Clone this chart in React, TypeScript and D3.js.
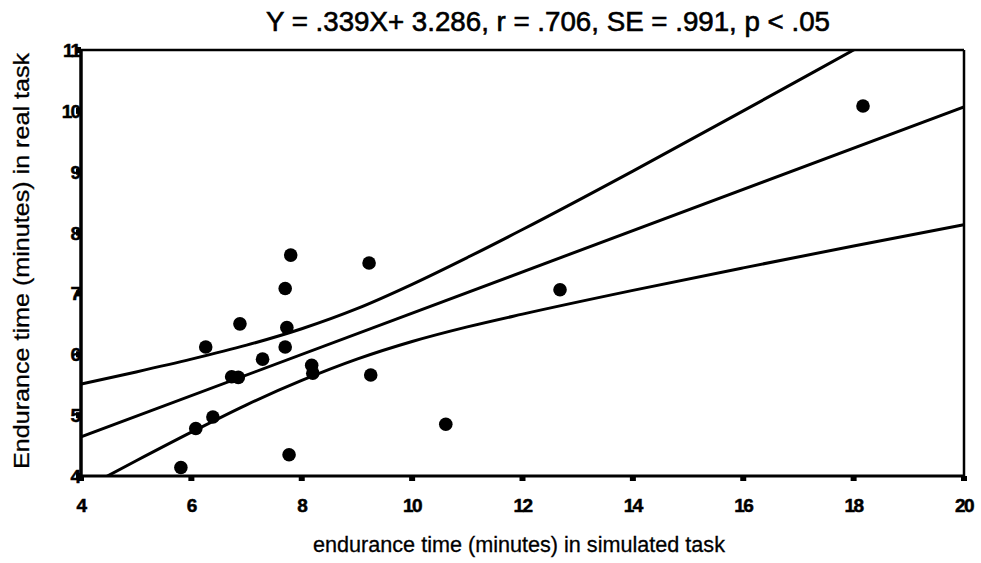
import React from "react";
import * as d3 from "d3";

const simulated = [7.80, 7.70, 6.88, 7.73, 6.26, 7.70, 7.29, 8.18, 8.20, 6.73, 6.85, 6.39, 6.08, 7.77, 5.81, 18.17, 9.22, 12.68, 9.25, 10.61];
const real = [7.63, 7.08, 6.50, 6.44, 6.12, 6.12, 5.92, 5.82, 5.69, 5.63, 5.62, 4.97, 4.78, 4.35, 4.14, 10.08, 7.50, 7.06, 5.66, 4.85];

const slope = 0.339;
const intercept = 3.286;

const bandX = [4, 5, 6, 7, 8, 9, 10, 11, 12, 14, 16, 18, 20];
const bandUpper = [5.51, 5.71, 5.92, 6.15, 6.42, 6.75, 7.15, 7.59, 8.05, 9.01, 10.0, 11.0, 12.0];
const bandLower = [3.77, 4.25, 4.72, 5.17, 5.57, 5.92, 6.21, 6.45, 6.66, 7.05, 7.42, 7.78, 8.13];

const xTicks = [4, 6, 8, 10, 12, 14, 16, 18, 20];
const yTicks = [4, 5, 6, 7, 8, 9, 10, 11];

const titleText = "Y = .339X+ 3.286, r = .706, SE = .991, p < .05";
const xTitle = "endurance time (minutes) in simulated task";
const yTitle = "Endurance time (minutes) in real task";

export default function App() {
  const W = 981, H = 563;
  const left = 81, right = 964, top = 50, bottom = 476;
  const x = d3.scaleLinear().domain([4, 20]).range([left, right]);
  const y = d3.scaleLinear().domain([4, 11]).range([bottom, top]);

  const line = d3.line<[number, number]>().x(d => x(d[0])).y(d => y(d[1])).curve(d3.curveMonotoneX);
  const upperPath = line(bandX.map((v, i) => [v, bandUpper[i]] as [number, number])) || "";
  const lowerPath = line(bandX.map((v, i) => [v, bandLower[i]] as [number, number])) || "";
  const fitPath = line([[4, slope * 4 + intercept], [20, slope * 20 + intercept]]) || "";

  const font = "'Liberation Sans', Arial, sans-serif";

  return (
    <svg width={W} height={H} style={{ position: "absolute", left: 0, top: 0, background: "#fff" }}>
      <defs>
        <clipPath id="plot">
          <rect x={left} y={top} width={right - left} height={bottom - top} />
        </clipPath>
      </defs>
      <rect width={W} height={H} fill="#fff" />
      <text x={548} y={31} textAnchor="middle" fontFamily={font} fontSize={27} textLength={564} lengthAdjust="spacingAndGlyphs" fill="#000" stroke="#000" strokeWidth={0.6}>{titleText}</text>

      <g clipPath="url(#plot)" fill="none" stroke="#000" strokeWidth={3}>
        <path d={upperPath} />
        <path d={lowerPath} />
        <path d={fitPath} />
      </g>

      {simulated.map((v, i) => (
        <circle key={i} cx={x(v)} cy={y(real[i])} r={6.8} fill="#000" />
      ))}

      {/* frame */}
      <line x1={left} x2={right} y1={top} y2={top} stroke="#000" strokeWidth={2.5} />
      <line x1={right} x2={right} y1={top} y2={bottom} stroke="#000" strokeWidth={2.5} />
      <line x1={left} x2={right} y1={bottom} y2={bottom} stroke="#000" strokeWidth={3} />
      <line x1={left} x2={left} y1={top} y2={bottom} stroke="#000" strokeWidth={3.5} />

      {xTicks.map(t => (
        <g key={"x" + t}>
          <rect x={x(t) - 3} y={bottom} width={6} height={5} fill="#000" />
          <text x={x(t)} y={bottom + 36} textAnchor="middle" fontFamily={font} fontWeight="bold" fontSize={19} letterSpacing={-1.5} fill="#000" stroke="#000" strokeWidth={0.5}>{t}</text>
        </g>
      ))}
      {yTicks.map(t => (
        <g key={"y" + t}>
          <rect x={left - 5} y={y(t) - 3} width={5} height={6} fill="#000" />
          <text x={left - 2} y={y(t) + 7} textAnchor="end" fontFamily={font} fontWeight="bold" fontSize={19} letterSpacing={-2} fill="#000" stroke="#000" strokeWidth={0.5}>{t}</text>
        </g>
      ))}

      <text x={519} y={552} textAnchor="middle" fontFamily={font} fontSize={22} textLength={412} lengthAdjust="spacingAndGlyphs" fill="#000" stroke="#000" strokeWidth={0.3}>{xTitle}</text>
      <text transform={`translate(29,261) rotate(-90)`} textAnchor="middle" fontFamily={font} fontSize={22} textLength={416} lengthAdjust="spacingAndGlyphs" fill="#000" stroke="#000" strokeWidth={0.3}>{yTitle}</text>
    </svg>
  );
}
